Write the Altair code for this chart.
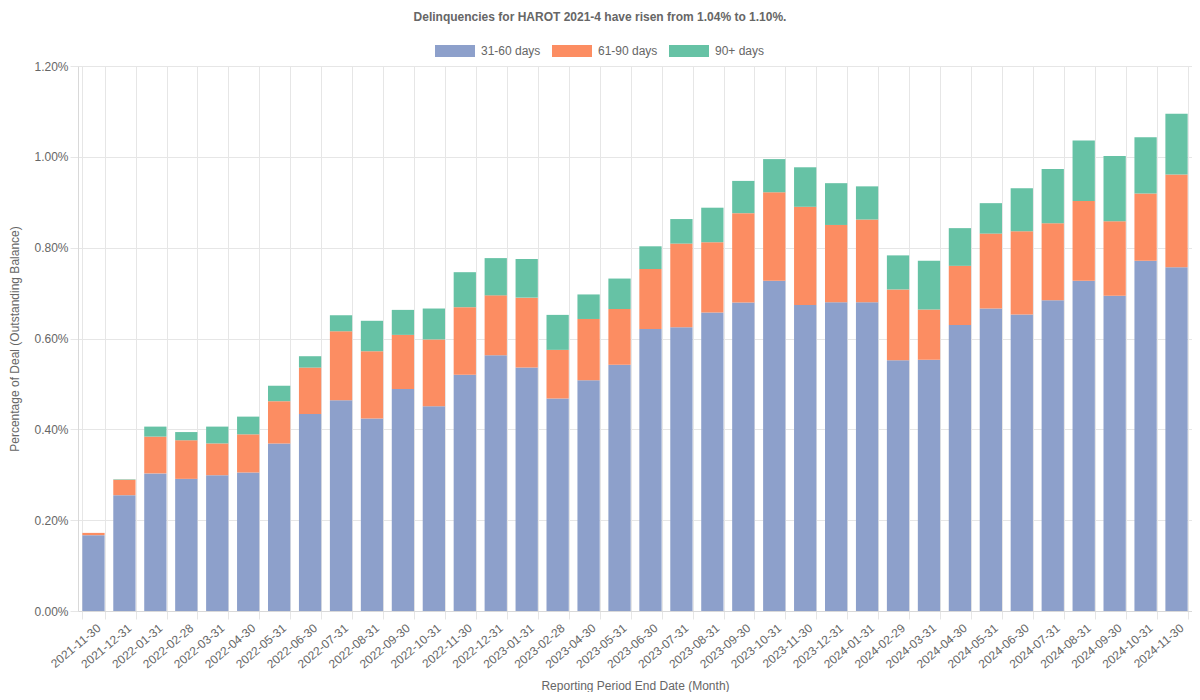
import altair as alt
import pandas as pd

dates = [
    "2021-11-30", "2021-12-31",
    "2022-01-31", "2022-02-28", "2022-03-31", "2022-04-30", "2022-05-31", "2022-06-30",
    "2022-07-31", "2022-08-31", "2022-09-30", "2022-10-31", "2022-11-30", "2022-12-31",
    "2023-01-31", "2023-02-28", "2023-04-30", "2023-05-31", "2023-06-30", "2023-07-31",
    "2023-08-31", "2023-09-30", "2023-10-31", "2023-11-30", "2023-12-31",
    "2024-01-31", "2024-02-29", "2024-03-31", "2024-04-30", "2024-05-31", "2024-06-30",
    "2024-07-31", "2024-08-31", "2024-09-30", "2024-10-31", "2024-11-30",
]

# values in percent of outstanding balance
d31_60 = [0.167, 0.255, 0.303, 0.291, 0.299, 0.305, 0.369, 0.434, 0.464, 0.424, 0.489, 0.451,
          0.520, 0.563, 0.536, 0.468, 0.508, 0.542, 0.621, 0.625, 0.657, 0.679, 0.727, 0.674,
          0.680, 0.680, 0.552, 0.553, 0.630, 0.666, 0.653, 0.684, 0.727, 0.694, 0.771, 0.757]
d61_90 = [0.005, 0.034, 0.081, 0.085, 0.070, 0.084, 0.093, 0.102, 0.152, 0.148, 0.119, 0.147,
          0.149, 0.132, 0.154, 0.107, 0.135, 0.123, 0.132, 0.184, 0.155, 0.197, 0.195, 0.216,
          0.170, 0.182, 0.156, 0.111, 0.130, 0.165, 0.183, 0.170, 0.176, 0.164, 0.148, 0.204]
d90p = [0.000, 0.001, 0.022, 0.018, 0.037, 0.039, 0.034, 0.025, 0.035, 0.067, 0.055, 0.068,
        0.077, 0.082, 0.085, 0.077, 0.054, 0.067, 0.050, 0.054, 0.076, 0.071, 0.073, 0.087,
        0.092, 0.073, 0.075, 0.107, 0.083, 0.067, 0.095, 0.119, 0.133, 0.144, 0.124, 0.134]

series = ["31-60 days", "61-90 days", "90+ days"]
colors = ["#8da0cb", "#fc8d62", "#66c2a5"]
y_ticks = [0.0, 0.002, 0.004, 0.006, 0.008, 0.010, 0.012]

title_text = "Delinquencies for HAROT 2021-4 have risen from 1.04% to 1.10%."

rows = []
for i, d in enumerate(dates):
    for k, vals in enumerate([d31_60, d61_90, d90p]):
        rows.append({"date": d, "series": series[k], "order": k, "value": vals[i] / 100.0})
df = pd.DataFrame(rows)

FONT = "Liberation Sans"
GREY = "#666666"
GRID = "#e6e6e6"

chart = alt.Chart(df).mark_bar().encode(
    x=alt.X(
        "date:N",
        sort=dates,
        scale=alt.Scale(paddingInner=0.28, paddingOuter=0.14),
        axis=alt.Axis(
            title="Reporting Period End Date (Month)",
            labelAngle=-40,
            labelAlign="right",
            labelBaseline="middle",
            labelOffset=5,
            tickBand="extent",
            grid=True,
            gridColor=GRID,
            tickColor=GRID,
            tickSize=8,
            domainColor="#d9d9d9",
            labelColor=GREY,
            labelFont=FONT,
            labelFontSize=12,
            labelPadding=7,
            titleColor=GREY,
            titleFont=FONT,
            titleFontSize=12,
            titleFontWeight="normal",
            titlePadding=10,
        ),
    ),
    y=alt.Y(
        "value:Q",
        stack="zero",
        scale=alt.Scale(domain=[0, 0.012], nice=False),
        axis=alt.Axis(
            title="Percentage of Deal (Outstanding Balance)",
            format=".2%",
            values=y_ticks,
            grid=True,
            gridColor=GRID,
            tickColor=GRID,
            tickSize=8,
            domainColor="#d9d9d9",
            labelColor=GREY,
            labelFont=FONT,
            labelFontSize=12,
            labelPadding=2,
            titleColor=GREY,
            titleFont=FONT,
            titleFontSize=12,
            titleFontWeight="normal",
            titlePadding=12,
        ),
    ),
    color=alt.Color(
        "series:N",
        scale=alt.Scale(domain=series, range=colors),
        legend=alt.Legend(
            title=None,
            orient="none",
            legendX=357,
            legendY=-35,
            direction="horizontal",
            symbolType="M-1,-0.3H1V0.3H-1Z",
            symbolSize=1600,
            symbolStrokeWidth=0,
            symbolOpacity=1,
            labelColor=GREY,
            labelFont=FONT,
            labelFontSize=12,
            labelOffset=6,
            columnPadding=11,
        ),
    ),
    order=alt.Order("order:Q"),
).properties(
    width=1114,
    height=545,
    title=alt.TitleParams(
        text=title_text,
        font=FONT,
        fontSize=12,
        fontWeight="bold",
        color=GREY,
        anchor="middle",
        offset=7,
        dx=-35,
    ),
    autosize=alt.AutoSizeParams(type="none"),
    padding={"left": 70, "top": 58, "right": 0, "bottom": 81},
).configure_view(strokeWidth=0)

chart.save("out.html", embed_options={"renderer": "svg", "actions": False})
